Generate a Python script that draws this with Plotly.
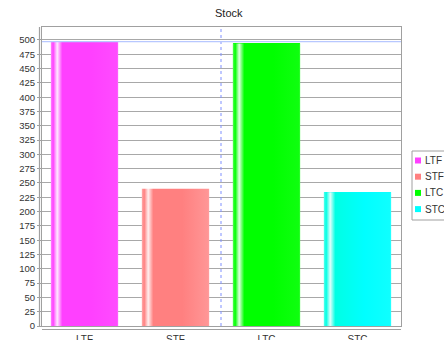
import plotly.graph_objects as go

# ---- data ----
categories = ["LTF", "STF", "LTC", "STC"]
values = [497, 240, 494, 234]
y_ticks = list(range(0, 501, 25))
title_text = "Stock"

# ---- style ----
base_colors = ["#FF40FF", "#FF8080", "#00FF00", "#00FFFF"]
left_tints = ["#FF40FF", "#FF8080", "#00FF00", "#00FFE4"]
right_tints = [0.06, 0.18, 0.06, 0.06]
bar_width = 0.74
W, H = 444, 340
ML, MR, MT, MB = 42, 43, 27, 14
PW, PH = W - ML - MR, H - MT - MB
FONT = "Liberation Sans, Arial, sans-serif"


def hex2rgb(h):
    h = h.lstrip("#")
    return tuple(int(h[i:i + 2], 16) for i in (0, 2, 4))


def mix(h, t):
    r, g, b = hex2rgb(h)
    return "rgb(%d,%d,%d)" % (r + (255 - r) * t, g + (255 - g) * t, b + (255 - b) * t)


def px_x(p):
    return (p - ML) / PW


def px_y(p):
    return (H - MB - p) / PH


fig = go.Figure()
xs = list(range(len(categories)))

fig.add_trace(go.Bar(x=xs, y=values, width=bar_width, marker=dict(color=base_colors, line=dict(width=0)),
                     showlegend=False, hoverinfo="skip"))

for i, (v, c, lt, rt) in enumerate(zip(values, base_colors, left_tints, right_tints)):
    x0, x1 = i - bar_width / 2, i + bar_width / 2
    cs = [[0, mix(lt, 0.35)], [0.035, lt], [0.095, mix(lt, 0.88)], [0.17, lt],
          [0.6, c], [0.985, mix(c, rt)], [1, mix(c, 0.3)]]
    fig.add_trace(go.Scatter(
        x=[x0, x1, x1, x0, x0], y=[0, 0, v, v, 0], mode="lines", fill="toself",
        line=dict(width=0), fillgradient=dict(type="horizontal", colorscale=cs, start=x0, stop=x1),
        showlegend=False, hoverinfo="skip"))

shapes = []
# crosshairs
shapes.append(dict(type="line", xref="x", yref="paper", x0=1.5, x1=1.5, y0=0, y1=1,
                   line=dict(color="#7f8fff", width=1, dash="dot"), layer="above"))
shapes.append(dict(type="line", xref="paper", yref="y", x0=0, x1=1, y0=values[0], y1=values[0],
                   line=dict(color="#b8c8ff", width=1.2), layer="above"))
# offset axis lines
shapes.append(dict(type="line", xref="paper", yref="paper", x0=px_x(39.5), x1=px_x(39.5), y0=0, y1=1,
                   line=dict(color="#a0a0a0", width=1.2)))
shapes.append(dict(type="line", xref="paper", yref="paper", x0=0, x1=1, y0=px_y(329.5), y1=px_y(329.5),
                   line=dict(color="#a0a0a0", width=1.2)))

# manual legend
leg_x0, leg_y0, leg_y1 = 412, 151, 220
shapes.append(dict(type="rect", xref="paper", yref="paper", x0=px_x(leg_x0), x1=px_x(460),
                   y0=px_y(leg_y1), y1=px_y(leg_y0), line=dict(color="#a0a0a0", width=1),
                   fillcolor="white"))
annotations = []
for k, (name, c) in enumerate(zip(categories, base_colors)):
    cy = 160.5 + k * 16.2
    shapes.append(dict(type="rect", xref="paper", yref="paper", x0=px_x(415), x1=px_x(421),
                       y0=px_y(cy + 3), y1=px_y(cy - 3), line=dict(width=0), fillcolor=c))
    annotations.append(dict(text=name, xref="paper", yref="paper", x=px_x(422.5), y=px_y(cy),
                            xanchor="left", yanchor="middle", showarrow=False,
                            font=dict(family=FONT, size=10, color="#333")))

annotations.append(dict(text=title_text, xref="paper", yref="paper", x=px_x(229), y=px_y(13),
                        xanchor="center", yanchor="middle", showarrow=False,
                        font=dict(family=FONT, size=11, color="#222")))

fig.update_layout(
    width=W, height=H, margin=dict(l=ML, r=MR, t=MT, b=MB),
    paper_bgcolor="white", plot_bgcolor="white",
    shapes=shapes, annotations=annotations, showlegend=False,
    font=dict(family=FONT, size=10, color="#333"),
    bargap=0,
    xaxis=dict(range=[-0.467, 3.478], tickvals=xs, ticktext=categories, showgrid=False,
               showline=True, mirror=True, linecolor="#a0a0a0", linewidth=1.2, ticks="",
               zeroline=False, automargin=False, ticklabelstandoff=4,
               tickfont=dict(size=10, color="#333")),
    yaxis=dict(range=[0, 522.7], tickvals=y_ticks, showgrid=True, gridcolor="#a8a8a8", gridwidth=1.2,
               showline=True, mirror=True, linecolor="#a0a0a0", linewidth=1.2, ticks="outside",
               ticklen=4, tickcolor="#a0a0a0", zeroline=False, automargin=False,
               tickfont=dict(size=9.5, color="#333")),
)

fig.write_html("out.html")
